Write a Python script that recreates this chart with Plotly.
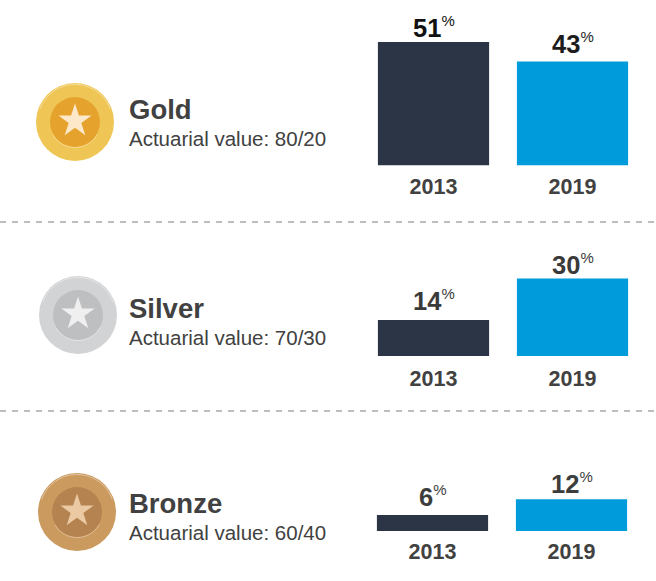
import numpy as np
import plotly.graph_objects as go

W, H = 656, 581
years = ["2013", "2019"]
tiers = ["Gold", "Silver", "Bronze"]
subtitles = ["Actuarial value: 80/20", "Actuarial value: 70/30", "Actuarial value: 60/40"]
values_2013 = [51, 14, 6]
values_2019 = [43, 30, 12]

# panel layout, in pixels
panel_top = [0, 222, 411]
panel_base = [165.5, 356, 531]
panel_x = [364, 364, 363]
panel_scale = [2.42, 2.58, 2.65]
tick_standoff = [6, 7, 5]
label_shift = [[-1, 2], [4, -1], [3, 0]]
medal_x = [75, 78, 77]
medal_y = [122, 315, 512]
title_y = [109, 308, 503]
sub_y = [138, 337, 532]
outer = ["#EFC655", "#D2D3D5", "#CB9A5E"]
inner = ["#E5A22D", "#BEBFC1", "#B5834F"]
star = ["#FDE9C9", "#EFEFF0", "#EBC9A3"]
label_colors = [["#111111", "#1c1c1c"], ["#3a3a3a", "#3a3a3a"], ["#3d3d3d", "#3d3d3d"]]
FONT = "Liberation Sans, Arial, sans-serif"

fig = go.Figure()
layout = {}
annotations = []
for i in range(3):
    n = i + 1
    ax = "" if i == 0 else str(n)
    vals = [values_2013[i], values_2019[i]]
    fig.add_trace(go.Bar(
        x=years, y=vals, xaxis=f"x{ax}", yaxis=f"y{ax}",
        marker=dict(color=["#2B3545", "#009BDA"], line_width=0),
        hoverinfo="skip", showlegend=False,
    ))
    for j, v in enumerate(vals):
        annotations.append(dict(
            xref=f"x{ax}", yref=f"y{ax}", x=j, y=v, xanchor="center", yanchor="bottom",
            yshift=label_shift[i][j], showarrow=False, borderpad=0, captureevents=False,
            text=f"<b>{v}</b><sup><span style='font-size:15px'>%</span></sup>",
            font=dict(family=FONT, size=25.5, color=label_colors[i][j]),
        ))
    height = panel_base[i] - panel_top[i]
    layout[f"xaxis{ax}"] = dict(
        domain=[panel_x[i] / W, (panel_x[i] + 278) / W], anchor=f"y{ax}",
        type="category", range=[-0.5, 1.5], showgrid=False, zeroline=False, showline=False, ticks="",
        ticklabelstandoff=tick_standoff[i],
        tickfont=dict(family=FONT, size=21.5, color="#414141", weight="bold"),
    )
    layout[f"yaxis{ax}"] = dict(
        domain=[1 - panel_base[i] / H, 1 - panel_top[i] / H], anchor=f"x{ax}",
        range=[0, height / panel_scale[i]], visible=False,
    )

# full-page overlay for medals, rules and text, in pixel units
layout["xaxis4"] = dict(domain=[0, 1], range=[0, W], visible=False, anchor="y4")
layout["yaxis4"] = dict(domain=[0, 1], range=[H, 0], visible=False, anchor="x4")

shapes = []
for y in (222, 411):
    shapes.append(dict(type="line", xref="x4", yref="y4", x0=0, x1=W, y0=y, y1=y,
                       line=dict(color="#A9A9A9", width=1.3, dash="6px,6px")))


def arc(cx, cy, r, a0, a1):
    t = np.radians(np.linspace(a0, a1, 40))
    pts = [f"{cx + r * np.cos(a):.2f},{cy + r * np.sin(a):.2f}" for a in t]
    return "M" + " L".join(pts)


for i in range(3):
    cx, cy = medal_x[i], medal_y[i]
    shapes.append(dict(type="path", xref="x4", yref="y4", path=arc(cx, cy, 37.5, 200, 340),
                       line=dict(color="rgba(255,255,255,0.4)", width=1)))
    shapes.append(dict(type="path", xref="x4", yref="y4", path=arc(cx, cy, 25.5, 30, 150),
                       line=dict(color="rgba(255,255,255,0.35)", width=1)))
    annotations.append(dict(xref="x4", yref="y4", x=128, y=title_y[i], xanchor="left", yanchor="middle",
                            text=f"<b>{tiers[i]}</b>", showarrow=False, borderpad=0,
                            font=dict(family=FONT, size=27.5, color="#414141")))
    annotations.append(dict(xref="x4", yref="y4", x=128, y=sub_y[i], xanchor="left", yanchor="middle",
                            text=subtitles[i], showarrow=False, borderpad=0,
                            font=dict(family=FONT, size=20.5, color="#414141")))

fig.add_trace(go.Scatter(x=medal_x, y=medal_y, xaxis="x4", yaxis="y4", mode="markers",
                         marker=dict(symbol="circle", size=78, color=outer, line_width=0),
                         hoverinfo="skip", showlegend=False))
fig.add_trace(go.Scatter(x=medal_x, y=medal_y, xaxis="x4", yaxis="y4", mode="markers",
                         marker=dict(symbol="circle", size=50, color=inner, line_width=0),
                         hoverinfo="skip", showlegend=False))
fig.add_trace(go.Scatter(x=medal_x, y=[v - 1 for v in medal_y], xaxis="x4", yaxis="y4", mode="markers",
                         marker=dict(symbol="star", size=25, color=star, line_width=0),
                         hoverinfo="skip", showlegend=False))

fig.update_layout(
    width=W, height=H, margin=dict(l=0, r=0, t=0, b=0),
    paper_bgcolor="rgba(0,0,0,0)", plot_bgcolor="rgba(0,0,0,0)",
    bargap=0.2, shapes=shapes, annotations=annotations, **layout,
)
fig.write_html("out.html", config=dict(displayModeBar=False),
               post_script="document.body.style.margin='0';")
